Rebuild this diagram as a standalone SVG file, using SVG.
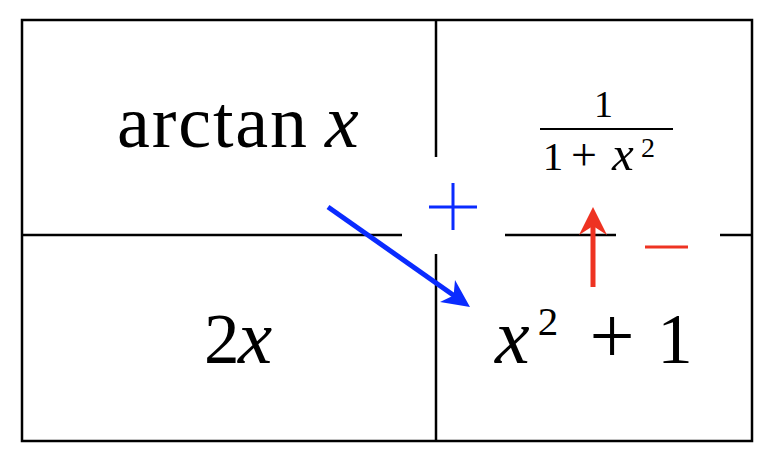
<svg xmlns="http://www.w3.org/2000/svg" width="776" height="464" viewBox="0 0 776 464">
<style>
.ln{stroke:#000;stroke-width:2.5;fill:none}
.t{font-family:"Liberation Serif","Times New Roman",serif;fill:#000}
.i{font-style:italic}
.m{text-anchor:middle}
.blue{stroke:#0a2bff;fill:none}
.red{stroke:#ee3322;fill:none}
</style>
<rect width="776" height="464" fill="#fff"/>
<g id="grid">
<rect class="ln" x="22" y="20" width="730" height="421"/>
<line class="ln" x1="436" y1="20" x2="436" y2="157"/>
<line class="ln" x1="436" y1="254" x2="436" y2="441"/>
<line class="ln" x1="22" y1="235" x2="402" y2="235"/>
<line class="ln" x1="505" y1="235" x2="616" y2="235"/>
<line class="ln" x1="720" y1="235" x2="752" y2="235"/>
</g>
<g id="n-arctan">
<text class="t" x="117" y="147" font-size="74" textLength="190" lengthAdjust="spacing">arctan</text>
<text class="t i" x="325" y="147" font-size="76">x</text>
</g>
<g id="n-frac">
<text class="t m" x="603.5" y="117" font-size="38">1</text>
<line x1="540" y1="129" x2="673" y2="129" stroke="#000" stroke-width="2"/>
<text class="t m" x="553" y="170" font-size="41">1</text>
<text class="t m" x="584" y="170" font-size="46">+</text>
<text class="t i" x="612" y="170" font-size="49">x</text>
<text class="t m" x="648" y="157" font-size="28">2</text>
</g>
<g id="n-2x">
<text class="t" x="204" y="363" font-size="71">2</text>
<text class="t i" x="238" y="363" font-size="77">x</text>
</g>
<g id="n-x2p1">
<text class="t i" x="495" y="363" font-size="78">x</text>
<text class="t m" x="548" y="335" font-size="41">2</text>
<text class="t m" x="612" y="363" font-size="80">+</text>
<text class="t m" x="675" y="363" font-size="71">1</text>
</g>
<g id="signs">
<path class="blue" stroke-width="3" d="M429 207H477M453 183V230"/>
<path class="red" stroke-width="3" d="M645 247H688"/>
</g>
<g id="connectors">
<line class="blue" stroke-width="5" x1="328" y1="207" x2="456" y2="297"/>
<polygon fill="#0a2bff" points="470,307 455,280 453.6,295.5 440,302"/>
<line class="red" stroke-width="5" x1="593" y1="287" x2="593" y2="224"/>
<polygon fill="#ee3322" points="593,207 607,235 593,226 579,235"/>
</g>
</svg>
